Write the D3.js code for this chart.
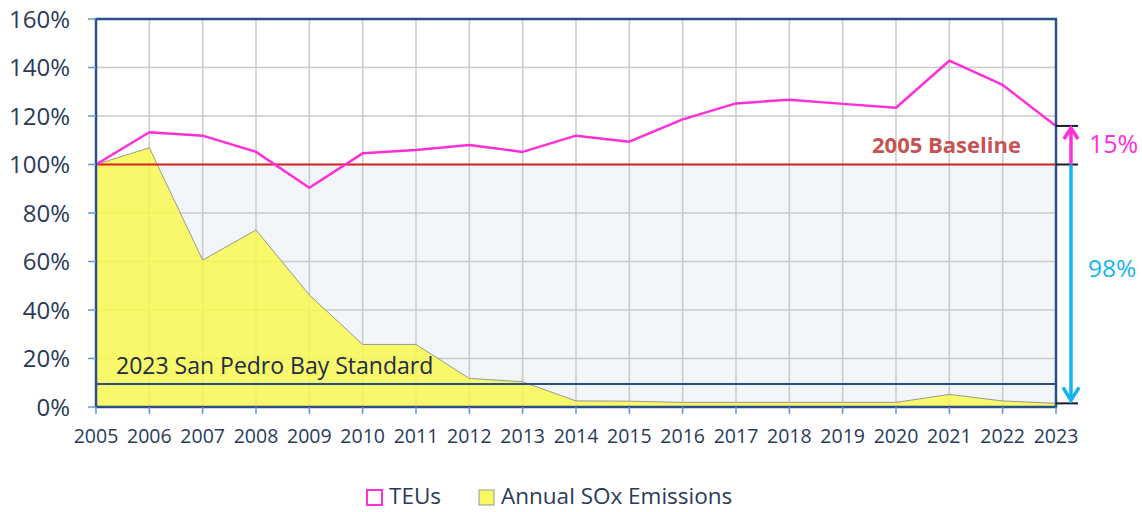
<!DOCTYPE html>
<html>
<head>
<meta charset="utf-8">
<script src="https://cdn.jsdelivr.net/npm/d3@7"></script>
<style>
  html, body { margin: 0; padding: 0; background: #fff; }
  svg { display: block; font-family: "Open Sans", sans-serif; }
</style>
</head>
<body>
<svg id="chart" width="1142" height="512"></svg>
<script>
const years = [2005,2006,2007,2008,2009,2010,2011,2012,2013,2014,2015,2016,2017,2018,2019,2020,2021,2022,2023];
const teus = [100,113.3,111.9,105.2,90.4,104.6,106,108,105.2,111.9,109.4,118.6,125.2,126.7,125,123.4,142.8,132.8,115.9];
const sox = [100,106.9,60.6,73,46.2,25.8,25.8,11.8,10.4,2.5,2.4,1.9,1.9,1.9,1.9,1.9,5.2,2.5,1.5];
const yTicks = [0,20,40,60,80,100,120,140,160];
const baseline = 100;
const standard = 9.5;
const teuChangeLabel = "15%";
const soxChangeLabel = "98%";
const baselineLabel = "2005 Baseline";
const standardLabel = "2023 San Pedro Bay Standard";
const legendItems = ["TEUs", "Annual SOx Emissions"];

const svg = d3.select("#chart");
const L = 96, R = 1056, T = 19, B = 407;
const x = d3.scaleLinear().domain([2005, 2023]).range([L, R]);
const y = d3.scaleLinear().domain([0, 160]).range([B, T]);

const textCol = "#2b3a58";
const frameCol = "#2a4f8a";
const tickCol = "#6a95d0";
const magenta = "#ff2fd8";
const cyan = "#14b4ee";

// light fill below baseline
svg.append("rect").attr("x", L).attr("y", y(baseline)).attr("width", R - L).attr("height", y(0) - y(baseline)).attr("fill", "#f2f5fa");

// gridlines
svg.append("g").selectAll("line").data(yTicks).join("line")
  .attr("x1", L).attr("x2", R).attr("y1", d => y(d)).attr("y2", d => y(d))
  .attr("stroke", "#cacaca").attr("stroke-width", 1.5);
svg.append("g").selectAll("line").data(years).join("line")
  .attr("x1", d => x(d)).attr("x2", d => x(d)).attr("y1", T).attr("y2", B)
  .attr("stroke", "#cacaca").attr("stroke-width", 1.5);

// SOx area
const area = d3.area().x((d, i) => x(years[i])).y0(y(0)).y1(d => y(d));
svg.append("path").datum(sox).attr("d", area)
  .attr("fill", "#f8f852").attr("fill-opacity", 0.86)
  .attr("stroke", "#9a9a8a").attr("stroke-width", 1);

// standard line
svg.append("line").attr("x1", L).attr("x2", R).attr("y1", y(standard)).attr("y2", y(standard))
  .attr("stroke", frameCol).attr("stroke-width", 2);
svg.append("text").attr("x", 116).attr("y", y(standard) - 10)
  .attr("font-size", 23).attr("fill", "#1e2b48").text(standardLabel);

// baseline
svg.append("line").attr("x1", L).attr("x2", R).attr("y1", y(baseline)).attr("y2", y(baseline))
  .attr("stroke", "#d42424").attr("stroke-width", 2);
svg.append("text").attr("x", 872).attr("y", y(baseline) - 12)
  .attr("font-size", 22).attr("font-weight", "bold").attr("fill", "#c55353").text(baselineLabel);

// TEUs line
const line = d3.line().x((d, i) => x(years[i])).y(d => y(d));
svg.append("path").datum(teus).attr("d", line)
  .attr("fill", "none").attr("stroke", magenta).attr("stroke-width", 2.5).attr("stroke-linejoin", "round");

// frame
svg.append("rect").attr("x", L).attr("y", T).attr("width", R - L).attr("height", B - T)
  .attr("fill", "none").attr("stroke", frameCol).attr("stroke-width", 2.5);

// axes ticks
svg.append("g").selectAll("line").data(yTicks).join("line")
  .attr("x1", L - 8).attr("x2", L).attr("y1", d => y(d)).attr("y2", d => y(d))
  .attr("stroke", tickCol).attr("stroke-width", 1.5);
svg.append("g").selectAll("line").data(years).join("line")
  .attr("x1", d => x(d)).attr("x2", d => x(d)).attr("y1", B).attr("y2", B + 7)
  .attr("stroke", tickCol).attr("stroke-width", 1.5);

// tick labels
svg.append("g").selectAll("text").data(yTicks).join("text")
  .attr("x", 70).attr("y", d => y(d)).attr("dy", "0.36em").attr("text-anchor", "end")
  .attr("font-size", 24).attr("fill", textCol).text(d => d + "%");
svg.append("g").selectAll("text").data(years).join("text")
  .attr("x", d => x(d)).attr("y", 443).attr("text-anchor", "middle")
  .attr("font-size", 19.5).attr("fill", textCol).text(d => d);

// right annotation
const ax = 1071;
const last = teus[teus.length - 1];
const lastSox = sox[sox.length - 1];
[last, baseline, lastSox].forEach(v => {
  svg.append("line").attr("x1", R).attr("x2", 1078).attr("y1", y(v)).attr("y2", y(v))
    .attr("stroke", "#1a1a2a").attr("stroke-width", 2);
});
svg.append("line").attr("x1", ax).attr("x2", ax).attr("y1", y(baseline)).attr("y2", y(last) + 3)
  .attr("stroke", magenta).attr("stroke-width", 3.5);
svg.append("path").attr("d", `M${ax - 7},${y(last) + 13} L${ax},${y(last) + 2} L${ax + 7},${y(last) + 13}`)
  .attr("fill", "none").attr("stroke", magenta).attr("stroke-width", 3.5);
svg.append("line").attr("x1", ax).attr("x2", ax).attr("y1", y(baseline)).attr("y2", y(lastSox) - 3)
  .attr("stroke", cyan).attr("stroke-width", 3.5);
svg.append("path").attr("d", `M${ax - 8},${y(lastSox) - 16} L${ax},${y(lastSox) - 3} L${ax + 8},${y(lastSox) - 16}`)
  .attr("fill", "none").attr("stroke", cyan).attr("stroke-width", 3.5);
svg.append("text").attr("x", 1089).attr("y", 153).attr("font-size", 25).attr("fill", magenta).text(teuChangeLabel);
svg.append("text").attr("x", 1088).attr("y", 277).attr("font-size", 24.5).attr("fill", cyan).text(soxChangeLabel);

// legend
svg.append("rect").attr("x", 367).attr("y", 490).attr("width", 15).attr("height", 15)
  .attr("fill", "#fff").attr("stroke", magenta).attr("stroke-width", 2);
svg.append("text").attr("x", 389).attr("y", 504).attr("font-size", 22.5).attr("fill", textCol).text(legendItems[0]);
svg.append("rect").attr("x", 479).attr("y", 490).attr("width", 15).attr("height", 15)
  .attr("fill", "#f8f860").attr("stroke", "#999").attr("stroke-width", 1);
svg.append("text").attr("x", 501).attr("y", 504).attr("font-size", 22.5).attr("fill", textCol).text(legendItems[1]);
</script>
</body>
</html>
